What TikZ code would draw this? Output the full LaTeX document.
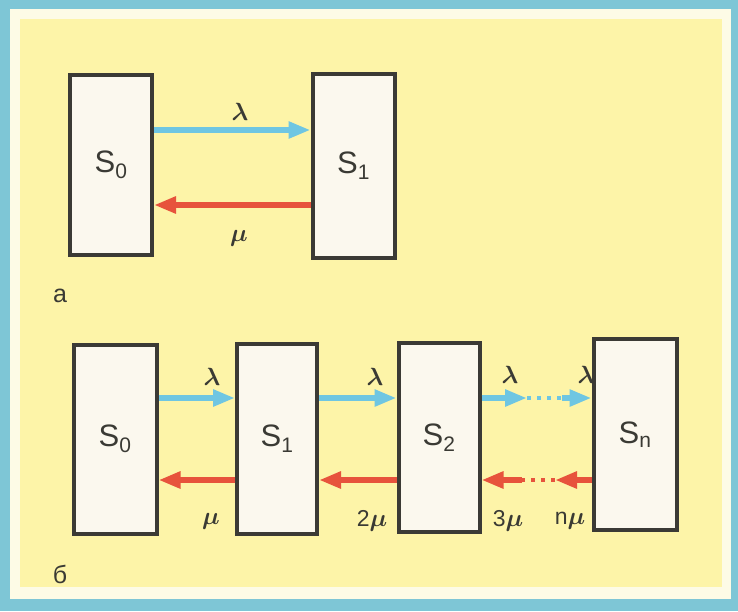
\documentclass[tikz,border=0pt]{standalone}
\usepackage{fontspec}
\setmainfont{Liberation Sans}
\usetikzlibrary{arrows.meta}
\definecolor{frameblue}{HTML}{7EC6D6}
\definecolor{cream}{HTML}{FDFBE6}
\definecolor{paper}{HTML}{FDF4A8}
\definecolor{boxfill}{HTML}{FBF8EE}
\definecolor{boxline}{HTML}{3B3A35}
\definecolor{arrblue}{HTML}{6FC6E2}
\definecolor{arrred}{HTML}{E7533C}
\definecolor{txt}{HTML}{3A3A34}
\tikzset{
  statebox/.style={draw=boxline, line width=4pt, fill=boxfill, inner sep=0pt},
  statelbl/.style={text=txt, font=\fontsize{31}{31}\selectfont},
  rate/.style={text=txt, font=\fontsize{23}{23}\selectfont\boldmath},
  panel/.style={text=txt, font=\fontsize{25}{25}\selectfont},
  fwd/.style={draw=arrblue, line width=5.5pt, -{Triangle[length=22pt,width=16pt]}, shorten >=0pt},
  bwd/.style={draw=arrred, line width=5.5pt, -{Triangle[length=22pt,width=16pt]}, shorten >=0pt},
  gapdash/.style={line width=4.5pt, dash pattern=on 4pt off 6pt}
}
\newcommand{\stsub}[1]{\textsubscript{\fontsize{21}{21}\selectfont #1}}
\begin{document}
\begin{tikzpicture}[x=1pt,y=-1pt]
\useasboundingbox (0,0) rectangle (738,611);
\fill[frameblue] (0,0) rectangle (738,611);
\fill[cream] (10,9) rectangle (731,599);
\fill[paper] (20,19) rectangle (722,587);

% ---- part a ----
\node[statebox, minimum width=82pt, minimum height=180pt] (a0) at (111,165) {};
\node[statebox, minimum width=82pt, minimum height=184pt] (a1) at (353.5,166) {};
\node[statelbl] at (a0.center) {S\stsub{0}};
\node[statelbl] at (a1.center) {S\stsub{1}};
\coordinate (a0t) at (a0.east |- 0,130);
\coordinate (a1t) at (a1.west |- 0,130);
\coordinate (a0b) at (a0.east |- 0,205);
\coordinate (a1b) at (a1.west |- 0,205);
\draw[fwd] (a0t) -- (a1t);
\draw[bwd] (a1b) -- (a0b);
\node[rate] (la) at (240,112) {$\lambda$};
\node[rate] (ma) at (239,238) {$\mu$};
\node[panel] (pa) at (60,296) {а};

% ---- part b ----
\node[statebox, minimum width=83pt, minimum height=189pt] (b0) at (115,439) {};
\node[statebox, minimum width=80pt, minimum height=190pt] (b1) at (277,438.5) {};
\node[statebox, minimum width=81pt, minimum height=189pt] (b2) at (439,437.5) {};
\node[statebox, minimum width=83pt, minimum height=191pt] (bn) at (635,434.5) {};
\node[statelbl] at (b0.center) {S\stsub{0}};
\node[statelbl] at (b1.center) {S\stsub{1}};
\node[statelbl] at (b2.center) {S\stsub{2}};
\node[statelbl] at (bn.center) {S\stsub{n}};

\coordinate (b0t) at (b0.east |- 0,398);
\coordinate (b1tl) at (b1.west |- 0,398);
\coordinate (b1tr) at (b1.east |- 0,398);
\coordinate (b2tl) at (b2.west |- 0,398);
\coordinate (b2tr) at (b2.east |- 0,398);
\coordinate (bntl) at (bn.west |- 0,398);
\coordinate (d1) at (527,398);
\coordinate (d2) at (562,398);

\coordinate (b0b) at (b0.east |- 0,480);
\coordinate (b1bl) at (b1.west |- 0,480);
\coordinate (b1br) at (b1.east |- 0,480);
\coordinate (b2bl) at (b2.west |- 0,480);
\coordinate (b2br) at (b2.east |- 0,480);
\coordinate (bnbl) at (bn.west |- 0,480);
\coordinate (e1) at (555,480);
\coordinate (e2) at (522,480);

\draw[fwd] (b0t) -- (b1tl);
\draw[fwd] (b1tr) -- (b2tl);
\draw[fwd] (b2tr) -- (d1);
\draw[arrblue, gapdash] (d1) -- (d2);
\draw[fwd] (d2) -- (bntl);

\draw[bwd] (b1bl) -- (b0b);
\draw[bwd] (b2bl) -- (b1br);
\draw[bwd] (bnbl) -- (e1);
\draw[arrred, gapdash] (e1) -- (e2);
\draw[bwd] (e2) -- (b2br);

\node[rate] (l1) at (212,377) {$\lambda$};
\node[rate] (l2) at (375,377) {$\lambda$};
\node[rate] (l3) at (510,375) {$\lambda$};
\node[rate] (l4) at (586,375) {$\lambda$};
\node[rate] (m1) at (211,521) {$\mu$};
\node[rate] (m2) at (372,521) {2$\mu$};
\node[rate] (m3) at (508,521) {3$\mu$};
\node[rate] (m4) at (570,521) {n$\mu$};
\node[panel] (pb) at (60,574) {б};
\end{tikzpicture}
\end{document}
